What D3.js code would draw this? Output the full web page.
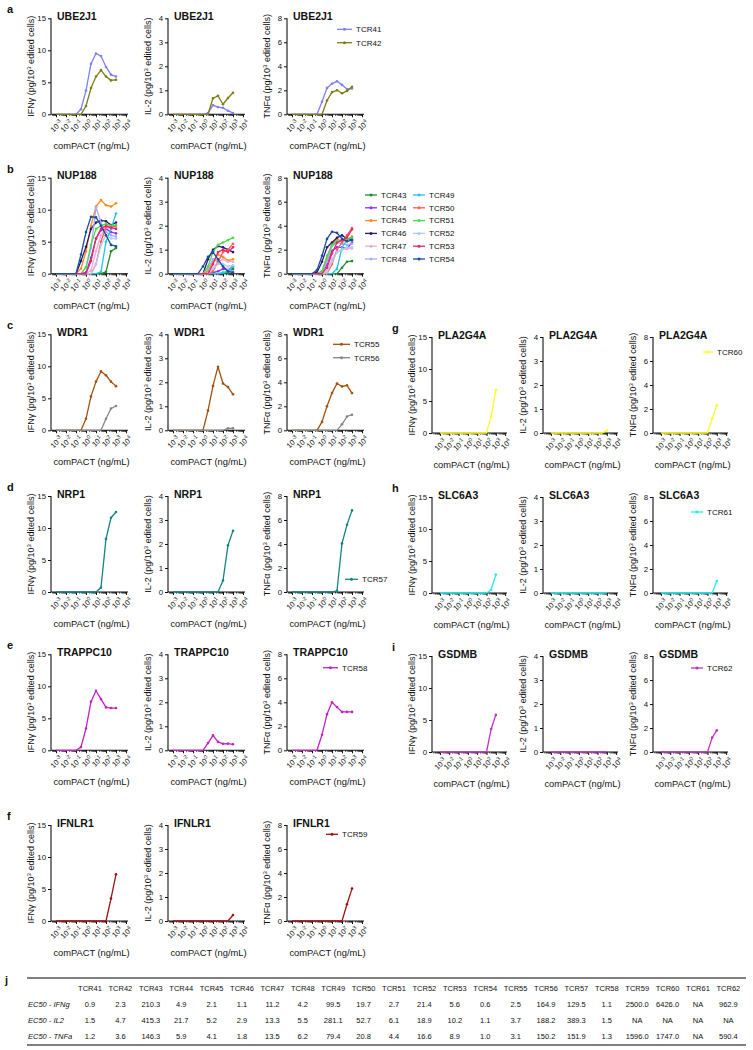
<!DOCTYPE html>
<html><head><meta charset="utf-8">
<script src="https://cdn.jsdelivr.net/npm/d3@7"></script>
<style>
body{margin:0;background:#fff}
svg{display:block}
text{font-family:"Liberation Sans",Arial,Helvetica,sans-serif;fill:#111}
</style>
</head><body>
<svg id="c" width="753" height="1050"></svg>
<script>
// ---------------- DATA ----------------
// comPACT concentrations (ng/mL), half-log dilution series
const doses = [0.001, 0.00316, 0.01, 0.0316, 0.1, 0.316, 1, 3.16, 10, 31.6, 100, 316, 1000];
const xTickValues = [1e-3, 1e-2, 1e-1, 1, 10, 100, 1000, 10000];
const xTickExponents = ["-3", "-2", "-1", "0", "1", "2", "3", "4"];
const ifnTicks = [0, 5, 10, 15];
const il2Ticks = [0, 1, 2, 3, 4];
const tnfTicks = [0, 2, 4, 6, 8];

const tcrNames = ["TCR41","TCR42","TCR43","TCR44","TCR45","TCR46","TCR47","TCR48","TCR49","TCR50","TCR51",
  "TCR52","TCR53","TCR54","TCR55","TCR56","TCR57","TCR58","TCR59","TCR60","TCR61","TCR62"];
const tcrColors = ["#7f7ff2","#7d7d14","#1c8c2c","#9230f0","#ff8a1c","#2c1870","#f6a9cf","#aaaaf6","#22c3ee",
  "#ff5a5a","#44dd44","#a9cdf2","#f0226c","#1a4d9c","#a0520e","#858585","#138383","#c322c3","#9c1414",
  "#ffff22","#22eeee","#c430c4"];

const genes = ["UBE2J1","NUP188","WDR1","NRP1","TRAPPC10","IFNLR1","PLA2G4A","SLC6A3","GSDMB"];
const geneTCRs = [["TCR41","TCR42"],
  ["TCR43","TCR44","TCR45","TCR46","TCR47","TCR48","TCR49","TCR50","TCR51","TCR52","TCR53","TCR54"],
  ["TCR55","TCR56"],["TCR57"],["TCR58"],["TCR59"],["TCR60"],["TCR61"],["TCR62"]];
const panelLetters = ["a","b","c","d","e","f","g","h","i"];

// cytokine (pg / 10^3 edited cells), one value per dose
const TCR41_IFNg = [0,0,0,0,0,0.8,3.7,7.9,9.5,9.1,7.4,6.2,5.9];
const TCR41_IL2  = [0,0,0,0,0,0,0,0.05,0.38,0.3,0.27,0.15,0.05];
const TCR41_TNFa = [0,0,0,0,0,0,1.05,2.2,2.55,2.75,2.45,2.1,2.15];
const TCR42_IFNg = [0,0,0,0,0,0,1.3,4.1,5.9,6.9,5.9,5.3,5.4];
const TCR42_IL2  = [0,0,0,0,0,0,0,0,0.67,0.77,0.42,0.68,0.9];
const TCR42_TNFa = [0,0,0,0,0,0,0,1.15,1.85,2.0,1.75,1.95,2.3];
const TCR43_IFNg = [0,0,0,0,0,0,0,0,0,0,0.3,3.5,4.0];
const TCR43_IL2  = [0,0,0,0,0,0,0,0,0,0,0,0.05,0.2];
const TCR43_TNFa = [0,0,0,0,0,0,0,0,0,0,0.5,1.0,1.05];
const TCR44_IFNg = [0,0,0,0,0,0,0.2,2.5,5.5,6.8,7.0,6.5,6.3];
const TCR44_IL2  = [0,0,0,0,0,0,0,0,0.05,0.1,0.2,0.15,0.3];
const TCR44_TNFa = [0,0,0,0,0,0,0,0.8,1.9,2.2,2.2,2.1,2.6];
const TCR45_IFNg = [0,0,0,0,0,0.8,3.5,7.5,10.5,11.5,10.7,10.5,11.0];
const TCR45_IL2  = [0,0,0,0,0,0,0,0.1,0.5,0.8,0.7,0.55,0.6];
const TCR45_TNFa = [0,0,0,0,0,0,0.2,1.2,2.5,2.9,2.7,2.8,3.1];
const TCR46_IFNg = [0,0,0,0,0,2.0,4.2,7.0,8.0,8.3,8.2,7.6,8.0];
const TCR46_IL2  = [0,0,0,0,0,0,0,0.6,1.0,1.15,1.1,1.0,0.9];
const TCR46_TNFa = [0,0,0,0,0,0.1,1.0,2.2,2.6,3.0,3.2,2.9,2.8];
const TCR47_IFNg = [0,0,0,0,0,0,0,0.5,3.5,6.0,7.2,7.0,7.2];
const TCR47_IL2  = [0,0,0,0,0,0,0,0,0.2,0.5,0.6,0.5,0.5];
const TCR47_TNFa = [0,0,0,0,0,0,0,0.2,1.2,1.8,2.0,2.1,2.1];
const TCR48_IFNg = [0,0,0,0,0,0,1.0,4.0,10.4,8.0,6.5,6.0,5.8];
const TCR48_IL2  = [0,0,0,0,0,0,0,0.2,0.6,0.5,0.3,0.15,0.1];
const TCR48_TNFa = [0,0,0,0,0,0,0.1,1.0,2.3,2.6,2.5,2.4,2.5];
const TCR49_IFNg = [0,0,0,0,0,0,0,0,0,0.3,5.0,7.0,9.4];
const TCR49_IL2  = [0,0,0,0,0,0,0,0,0,0,0.05,0.1,0.3];
const TCR49_TNFa = [0,0,0,0,0,0,0,0,0,0.4,2.2,2.8,3.0];
const TCR50_IFNg = [0,0,0,0,0,0,0,0,1.5,5.0,7.3,7.2,7.5];
const TCR50_IL2  = [0,0,0,0,0,0,0,0,0.1,0.5,0.9,1.0,1.25];
const TCR50_TNFa = [0,0,0,0,0,0,0,0,0.8,2.0,2.6,3.2,3.8];
const TCR51_IFNg = [0,0,0,0,0,0,1.0,4.5,7.0,7.5,7.8,7.5,7.6];
const TCR51_IL2  = [0,0,0,0,0,0,0,0.3,0.9,1.2,1.3,1.4,1.5];
const TCR51_TNFa = [0,0,0,0,0,0,0.2,1.5,2.4,2.7,2.8,2.9,3.0];
const TCR52_IFNg = [0,0,0,0,0,0,0,0,1.5,4.5,6.0,5.5,5.5];
const TCR52_IL2  = [0,0,0,0,0,0,0,0,0.2,0.4,0.4,0.3,0.35];
const TCR52_TNFa = [0,0,0,0,0,0,0,0.1,1.0,1.8,2.0,2.2,2.2];
const TCR53_IFNg = [0,0,0,0,0,0,0,2.0,5.5,7.0,7.5,7.2,7.0];
const TCR53_IL2  = [0,0,0,0,0,0,0,0,0.4,0.9,1.0,0.9,1.1];
const TCR53_TNFa = [0,0,0,0,0,0,0,0.5,1.7,2.6,2.8,3.0,3.7];
const TCR54_IFNg = [0,0,0,0,0,3.0,6.5,8.9,8.8,7.5,6.0,4.5,4.3];
const TCR54_IL2  = [0,0,0,0,0,0,0.3,0.7,0.9,0.6,0.3,0.1,0.05];
const TCR54_TNFa = [0,0,0,0,0,0.3,1.5,2.9,3.5,3.4,2.9,2.7,2.8];
const TCR55_IFNg = [0,0,0,0,0,0,1.8,5.3,7.6,9.2,8.6,7.6,6.9];
const TCR55_IL2  = [0,0,0,0,0,0,0,0.82,1.85,2.65,1.95,1.8,1.5];
const TCR55_TNFa = [0,0,0,0,0,0,0.7,2.0,3.1,3.9,3.65,3.75,3.1];
const TCR56_IFNg = [0,0,0,0,0,0,0,0,0,0,1.8,3.4,3.8];
const TCR56_IL2  = [0,0,0,0,0,0,0,0,0,0,0,0.08,0.08];
const TCR56_TNFa = [0,0,0,0,0,0,0,0,0,0,0.5,1.15,1.3];
const TCR57_IFNg = [0,0,0,0,0,0,0,0,0,0.7,8.3,11.6,12.5];
const TCR57_IL2  = [0,0,0,0,0,0,0,0,0,0,0.48,1.95,2.55];
const TCR57_TNFa = [0,0,0,0,0,0,0,0,0,0.1,4.05,5.6,6.8];
const TCR58_IFNg = [0,0,0,0,0,0.5,3.4,7.6,9.3,8.0,6.7,6.6,6.6];
const TCR58_IL2  = [0,0,0,0,0,0,0,0.3,0.62,0.35,0.27,0.28,0.25];
const TCR58_TNFa = [0,0,0,0,0,0,1.3,3.0,4.0,3.6,3.2,3.2,3.2];
const TCR59_IFNg = [0,0,0,0,0,0,0,0,0,0,0,3.5,7.3];
const TCR59_IL2  = [0,0,0,0,0,0,0,0,0,0,0,0,0.25];
const TCR59_TNFa = [0,0,0,0,0,0,0,0,0,0,0,1.4,2.7];
const TCR60_IFNg = [0,0,0,0,0,0,0,0,0,0,0,2.6,6.7];
const TCR60_IL2  = [0,0,0,0,0,0,0,0,0,0,0,0,0.1];
const TCR60_TNFa = [0,0,0,0,0,0,0,0,0,0,0,1.2,2.3];
const TCR61_IFNg = [0,0,0,0,0,0,0,0,0,0,0,0.5,2.9];
const TCR61_IL2  = [0,0,0,0,0,0,0,0,0,0,0,0,0];
const TCR61_TNFa = [0,0,0,0,0,0,0,0,0,0,0,0,1.0];
const TCR62_IFNg = [0,0,0,0,0,0,0,0,0,0,0,3.6,5.8];
const TCR62_IL2  = [0,0,0,0,0,0,0,0,0,0,0,0,0];
const TCR62_TNFa = [0,0,0,0,0,0,0,0,0,0,0,1.2,1.8];

// EC50 table (ng/mL)
const ec50RowLabels = ["EC50 - IFNg","EC50 - IL2","EC50 - TNFa"];
const ec50IFNg = ["0.9","2.3","210.3","4.9","2.1","1.1","11.2","4.2","99.5","19.7","2.7","21.4","5.6","0.6","2.5","164.9","129.5","1.1","2500.0","6426.0","NA","962.9"];
const ec50IL2  = ["1.5","4.7","415.3","21.7","5.2","2.9","13.3","5.5","281.1","52.7","6.1","18.9","10.2","1.1","3.7","188.2","389.3","1.5","NA","NA","NA","NA"];
const ec50TNFa = ["1.2","3.6","146.3","5.9","4.1","1.8","13.5","6.2","79.4","20.8","4.4","16.6","8.9","1.0","3.1","150.2","151.9","1.3","1596.0","1747.0","NA","590.4"];

// ---------------- BUILD LOOKUPS ----------------
const seriesTable = {
  TCR41:[TCR41_IFNg,TCR41_IL2,TCR41_TNFa], TCR42:[TCR42_IFNg,TCR42_IL2,TCR42_TNFa],
  TCR43:[TCR43_IFNg,TCR43_IL2,TCR43_TNFa], TCR44:[TCR44_IFNg,TCR44_IL2,TCR44_TNFa],
  TCR45:[TCR45_IFNg,TCR45_IL2,TCR45_TNFa], TCR46:[TCR46_IFNg,TCR46_IL2,TCR46_TNFa],
  TCR47:[TCR47_IFNg,TCR47_IL2,TCR47_TNFa], TCR48:[TCR48_IFNg,TCR48_IL2,TCR48_TNFa],
  TCR49:[TCR49_IFNg,TCR49_IL2,TCR49_TNFa], TCR50:[TCR50_IFNg,TCR50_IL2,TCR50_TNFa],
  TCR51:[TCR51_IFNg,TCR51_IL2,TCR51_TNFa], TCR52:[TCR52_IFNg,TCR52_IL2,TCR52_TNFa],
  TCR53:[TCR53_IFNg,TCR53_IL2,TCR53_TNFa], TCR54:[TCR54_IFNg,TCR54_IL2,TCR54_TNFa],
  TCR55:[TCR55_IFNg,TCR55_IL2,TCR55_TNFa], TCR56:[TCR56_IFNg,TCR56_IL2,TCR56_TNFa],
  TCR57:[TCR57_IFNg,TCR57_IL2,TCR57_TNFa], TCR58:[TCR58_IFNg,TCR58_IL2,TCR58_TNFa],
  TCR59:[TCR59_IFNg,TCR59_IL2,TCR59_TNFa], TCR60:[TCR60_IFNg,TCR60_IL2,TCR60_TNFa],
  TCR61:[TCR61_IFNg,TCR61_IL2,TCR61_TNFa], TCR62:[TCR62_IFNg,TCR62_IL2,TCR62_TNFa]
};
const colorOf = n => tcrColors[tcrNames.indexOf(n)];

// ---------------- LAYOUT ----------------
const plotH = 96;
const columns = {
  left:  {xs:[51,168,287], w:77, lo:-3.5, letterX:7},
  right: {xs:[432,543,653], w:75, lo:-3.85, letterX:392}
};
const panelLayout = [
  {col:"left", top:18.3,  leg:{x:50, len:15, dy:11, step:13.4}},
  {col:"left", top:177.7, leg:{x:78, len:12, dy:17.3, step:12.8, perCol:6, colDx:48}},
  {col:"left", top:334.3, leg:{x:46, len:17, dy:10, step:13.4}},
  {col:"left", top:496,   leg:{x:58, len:13, dy:83.3, step:13.4}},
  {col:"left", top:654.3, leg:{x:36, len:15, dy:13.4, step:13.4}},
  {col:"left", top:825,   leg:{x:39, len:12, dy:9.3, step:13.4}},
  {col:"right", top:337,  leg:{x:50, len:10, dy:15, step:13.4}},
  {col:"right", top:497,  leg:{x:38, len:12, dy:15, step:13.4}},
  {col:"right", top:656,  leg:{x:38, len:12, dy:12, step:13.4}}
];
const cytokines = [
  {max:15, ticks:ifnTicks, lab:["IFN\u03B3 (pg/10","3"," edited cells)"]},
  {max:4,  ticks:il2Ticks, lab:["IL-2 (pg/10","3"," edited cells)"]},
  {max:8,  ticks:tnfTicks, lab:["TNF\u03B1 (pg/10","3"," edited cells)"]}
];

const svg = d3.select("#c");

function minorTicks(){
  const out=[];
  for(let e=-4;e<=4;e++) for(let m=2;m<=9;m++){ out.push(m*Math.pow(10,e)); }
  return out;
}

function drawPlot(x0, top, w, lo, cy, gene, tcrs){
  const g = svg.append("g");
  const x = d3.scaleLog().domain([Math.pow(10,lo), Math.pow(10,4.2)]).range([x0, x0+w]);
  const y = d3.scaleLinear().domain([0, cy.max]).range([top+plotH, top]);
  const y0 = top+plotH;

  // y axis
  const ya = g.append("g").attr("transform",`translate(${x0},0)`)
    .call(d3.axisLeft(y).tickValues(cy.ticks).tickSize(3).tickPadding(2).tickFormat(d3.format("d")));
  ya.select(".domain").attr("stroke","#111").attr("stroke-width",1.1).attr("d",`M0,${top}V${y0}`);
  ya.selectAll(".tick line").attr("stroke","#111");
  ya.selectAll(".tick text").attr("font-size",7.8).attr("fill","#111")
    .style("font-family",'"Liberation Sans",Arial,sans-serif');

  // x axis - minor + major
  const [xa0, xa1] = x.range();
  const minors = minorTicks().filter(v => x(v)>=xa0 && x(v)<=xa1);
  const xm = g.append("g").attr("transform",`translate(0,${y0})`)
    .call(d3.axisBottom(x).tickValues(minors).tickSize(1.6).tickFormat(""));
  xm.select(".domain").remove();
  xm.selectAll(".tick line").attr("stroke","#111").attr("stroke-width",0.7);
  const xa = g.append("g").attr("transform",`translate(0,${y0})`)
    .call(d3.axisBottom(x).tickValues(xTickValues).tickSize(3).tickFormat(""));
  xa.select(".domain").attr("stroke","#111").attr("stroke-width",1.1).attr("d",`M${xa0},0H${xa1}`);
  xa.selectAll(".tick line").attr("stroke","#111");
  xa.selectAll(".tick").each(function(d,i){
    const t = d3.select(this).append("text")
      .attr("transform","translate(2.5,5) rotate(-45)")
      .attr("text-anchor","end").attr("dy","0.75em")
      .attr("font-size",7.5).attr("fill","#111");
    t.append("tspan").text("10");
    t.append("tspan").attr("font-size",5.5).attr("dy",-3).text(xTickExponents[i]);
  });

  // y label
  const cxL = x0-17, cyL = top+plotH/2;
  const yl = g.append("text").attr("transform",`translate(${cxL},${cyL}) rotate(-90)`)
    .attr("text-anchor","middle").attr("font-size",9);
  yl.append("tspan").text(cy.lab[0]);
  yl.append("tspan").attr("font-size",6).attr("dy",-3.5).text(cy.lab[1]);
  yl.append("tspan").attr("dy",3.5).text(cy.lab[2]);

  // x label
  g.append("text").attr("x", x0+w/2+2).attr("y", y0+35).attr("text-anchor","middle")
    .attr("font-size",9.3).text("comPACT (ng/mL)");

  // title
  g.append("text").attr("x", x0+6).attr("y", top+1.5).attr("font-size",10.5)
    .attr("font-weight","bold").text(gene);

  // series
  const line = d3.line().x((d,i)=>x(doses[i])).y(d=>y(d));
  tcrs.forEach(n=>{
    const vals = seriesTable[n][cy.idx];
    const col = colorOf(n);
    g.append("path").attr("d", line(vals)).attr("fill","none")
      .attr("stroke",col).attr("stroke-width",1.3).attr("stroke-linejoin","round");
    g.selectAll(null).data(vals.map((v,i)=>({v,i})).filter(d=>d.v>0)).enter()
      .append("circle").attr("cx",d=>x(doses[d.i])).attr("cy",d=>y(d.v)).attr("r",1.3).attr("fill",col);
  });
  return g;
}

cytokines.forEach((c,i)=>c.idx=i);

panelLayout.forEach((p,pi)=>{
  const col = columns[p.col];
  cytokines.forEach((cy,ci)=>{
    drawPlot(col.xs[ci], p.top, col.w, col.lo, cy, genes[pi], geneTCRs[pi]);
  });
  // panel letter
  svg.append("text").attr("x", col.letterX).attr("y", p.top-5).attr("font-size",11)
    .attr("font-weight","bold").text(panelLetters[pi]);
  // legend (next to TNF plot)
  const lx0 = col.xs[2], L = p.leg;
  geneTCRs[pi].forEach((n,k)=>{
    const perCol = L.perCol || 99;
    const cIdx = Math.floor(k/perCol), rIdx = k%perCol;
    const lx = lx0 + L.x + cIdx*(L.colDx||0);
    const ly = p.top + L.dy + rIdx*L.step;
    const color = colorOf(n);
    svg.append("line").attr("x1",lx).attr("x2",lx+L.len).attr("y1",ly).attr("y2",ly)
      .attr("stroke",color).attr("stroke-width",1.3);
    svg.append("circle").attr("cx",lx+L.len/2).attr("cy",ly).attr("r",1.5).attr("fill",color);
    svg.append("text").attr("x",lx+L.len+4).attr("y",ly).attr("dy","0.35em")
      .attr("font-size",8).text(n);
  });
});

// ---------------- TABLE j ----------------
const tLeft = 27, tRight = 746, tTop = 978, tBottom = 1045;
const colX = d3.scalePoint().domain(tcrNames).range([90, 728.4]);
const rowY = d3.scalePoint().domain(["hdr"].concat(ec50RowLabels)).range([988.5, 1036]);
svg.append("text").attr("x",5).attr("y",tTop+6).attr("font-size",11).attr("font-weight","bold").text("j");
svg.append("line").attr("x1",tLeft).attr("x2",tRight).attr("y1",tTop).attr("y2",tTop)
  .attr("stroke","#555").attr("stroke-width",1.6);
svg.append("line").attr("x1",tLeft).attr("x2",tRight).attr("y1",tBottom).attr("y2",tBottom)
  .attr("stroke","#555").attr("stroke-width",1.6);
tcrNames.forEach(n=>{
  svg.append("text").attr("x",colX(n)).attr("y",rowY("hdr")).attr("dy","0.35em")
    .attr("text-anchor","middle").attr("font-size",7.5).text(n);
});
const ec50Rows = [ec50IFNg, ec50IL2, ec50TNFa];
ec50RowLabels.forEach((lab,r)=>{
  svg.append("text").attr("x",tLeft+1).attr("y",rowY(lab)).attr("dy","0.35em")
    .attr("font-size",7.5).attr("font-style","italic").text(lab);
  ec50Rows[r].forEach((v,k)=>{
    svg.append("text").attr("x",colX(tcrNames[k])).attr("y",rowY(lab)).attr("dy","0.35em")
      .attr("text-anchor","middle").attr("font-size",7.5).text(v);
  });
});
</script>
</body></html>
